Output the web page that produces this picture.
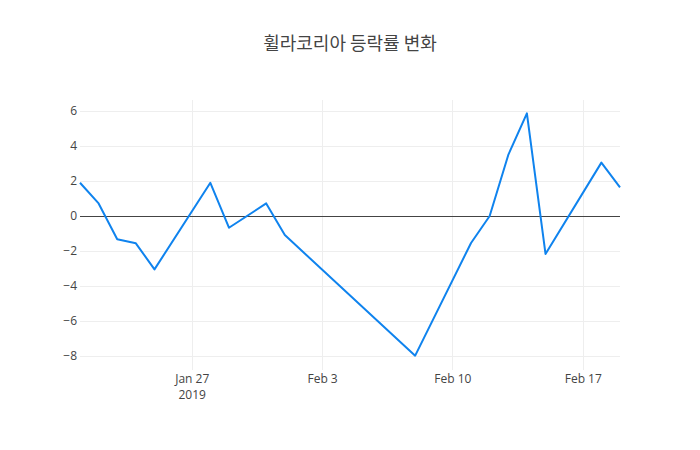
<!DOCTYPE html>
<html>
<head>
<meta charset="utf-8">
<script src="https://cdn.jsdelivr.net/npm/d3@7"></script>
<style>
  body { margin: 0; background: #fff; }
  text { font-family: "Open Sans", "Noto Sans CJK KR", sans-serif; }
</style>
</head>
<body>
<div id="container"></div>
<script>
// trading days and daily change (%)
var dates = [
  "2019-01-21", "2019-01-22", "2019-01-23", "2019-01-24", "2019-01-25",
  "2019-01-28", "2019-01-29", "2019-01-31", "2019-02-01", "2019-02-08",
  "2019-02-11", "2019-02-12", "2019-02-13", "2019-02-14", "2019-02-15",
  "2019-02-18", "2019-02-19"
];
var changes = [
  1.9, 0.72, -1.33, -1.56, -3.05,
  1.9, -0.67, 0.72, -1.09, -7.98,
  -1.54, 0.0, 3.49, 5.87, -2.17,
  3.05, 1.64
];
var yTicks = [-8, -6, -4, -2, 0, 2, 4, 6];
var xTicks = ["2019-01-27", "2019-02-03", "2019-02-10", "2019-02-17"];
var xTickLabels = [["Jan 27", "2019"], ["Feb 3"], ["Feb 10"], ["Feb 17"]];

var w = 700;
var h = 450;
var margin = { top: 100, right: 80, bottom: 80, left: 80 };

var parse = d3.timeParse("%Y-%m-%d");
var data = dates.map(function (d, i) {
  return { date: parse(d), value: changes[i] };
});

var svg = d3
  .select("#container")
  .append("svg")
  .attr("width", w)
  .attr("height", h);

var xScale = d3
  .scaleTime()
  .domain([parse("2019-01-21"), parse("2019-02-19")])
  .range([margin.left, w - margin.right]);

var yScale = d3
  .scaleLinear()
  .domain([-8.8, 6.63])
  .range([h - margin.bottom, margin.top]);

// grid lines
svg
  .append("g")
  .selectAll("line")
  .data(yTicks.filter((d) => d !== 0))
  .enter()
  .append("line")
  .attr("x1", margin.left)
  .attr("x2", w - margin.right)
  .attr("y1", (d) => Math.round(yScale(d)) + 0.5)
  .attr("y2", (d) => Math.round(yScale(d)) + 0.5)
  .attr("stroke", "#eee")
  .attr("stroke-width", 1);

svg
  .append("g")
  .selectAll("line")
  .data(xTicks)
  .enter()
  .append("line")
  .attr("x1", (d) => Math.round(xScale(parse(d))) + 0.5)
  .attr("x2", (d) => Math.round(xScale(parse(d))) + 0.5)
  .attr("y1", margin.top)
  .attr("y2", h - margin.bottom)
  .attr("stroke", "#eee")
  .attr("stroke-width", 1);

// y axis labels
var yAxis = d3
  .axisLeft(yScale)
  .tickValues(yTicks)
  .tickSize(0)
  .tickPadding(3)
  .tickFormat((d) => (d < 0 ? "\u2212" + Math.abs(d) : d));
var yg = svg
  .append("g")
  .attr("transform", "translate(" + margin.left + ",0)")
  .call(yAxis);
yg.select(".domain").remove();
yg.selectAll("text").attr("fill", "#444").style("font-size", "12px");

// x axis labels
var xAxis = d3
  .axisBottom(xScale)
  .tickValues(xTicks.map(parse))
  .tickSize(0)
  .tickFormat("");
var xg = svg
  .append("g")
  .attr("transform", "translate(0," + (h - margin.bottom) + ")")
  .call(xAxis);
xg.select(".domain").remove();
xg.selectAll(".tick").each(function (d, i) {
  var t = d3
    .select(this)
    .select("text")
    .attr("fill", "#444")
    .style("font-size", "12px")
    .attr("y", 4);
  xTickLabels[i].forEach(function (s, j) {
    t.append("tspan")
      .attr("x", 0)
      .attr("dy", j === 0 ? "0.71em" : "1.4em")
      .text(s);
  });
});

// zero line
svg
  .append("line")
  .attr("x1", margin.left)
  .attr("x2", w - margin.right)
  .attr("y1", Math.round(yScale(0)) + 0.5)
  .attr("y2", Math.round(yScale(0)) + 0.5)
  .attr("stroke", "#444")
  .attr("stroke-width", 1);

// line
var line = d3
  .line()
  .x((d) => xScale(d.date))
  .y((d) => yScale(d.value));

svg
  .append("path")
  .datum(data)
  .attr("d", line)
  .attr("fill", "none")
  .attr("stroke", "#0f83ee")
  .attr("stroke-width", 2)
  .attr("stroke-linejoin", "round");

// title
svg
  .append("text")
  .attr("x", w / 2)
  .attr("y", 50)
  .attr("text-anchor", "middle")
  .attr("fill", "#444")
  .style("font-size", "18px")
  .style("font-family", "'Noto Sans CJK KR', 'Open Sans', sans-serif")
  .text("휠라코리아 등락률 변화");
</script>
</body>
</html>
